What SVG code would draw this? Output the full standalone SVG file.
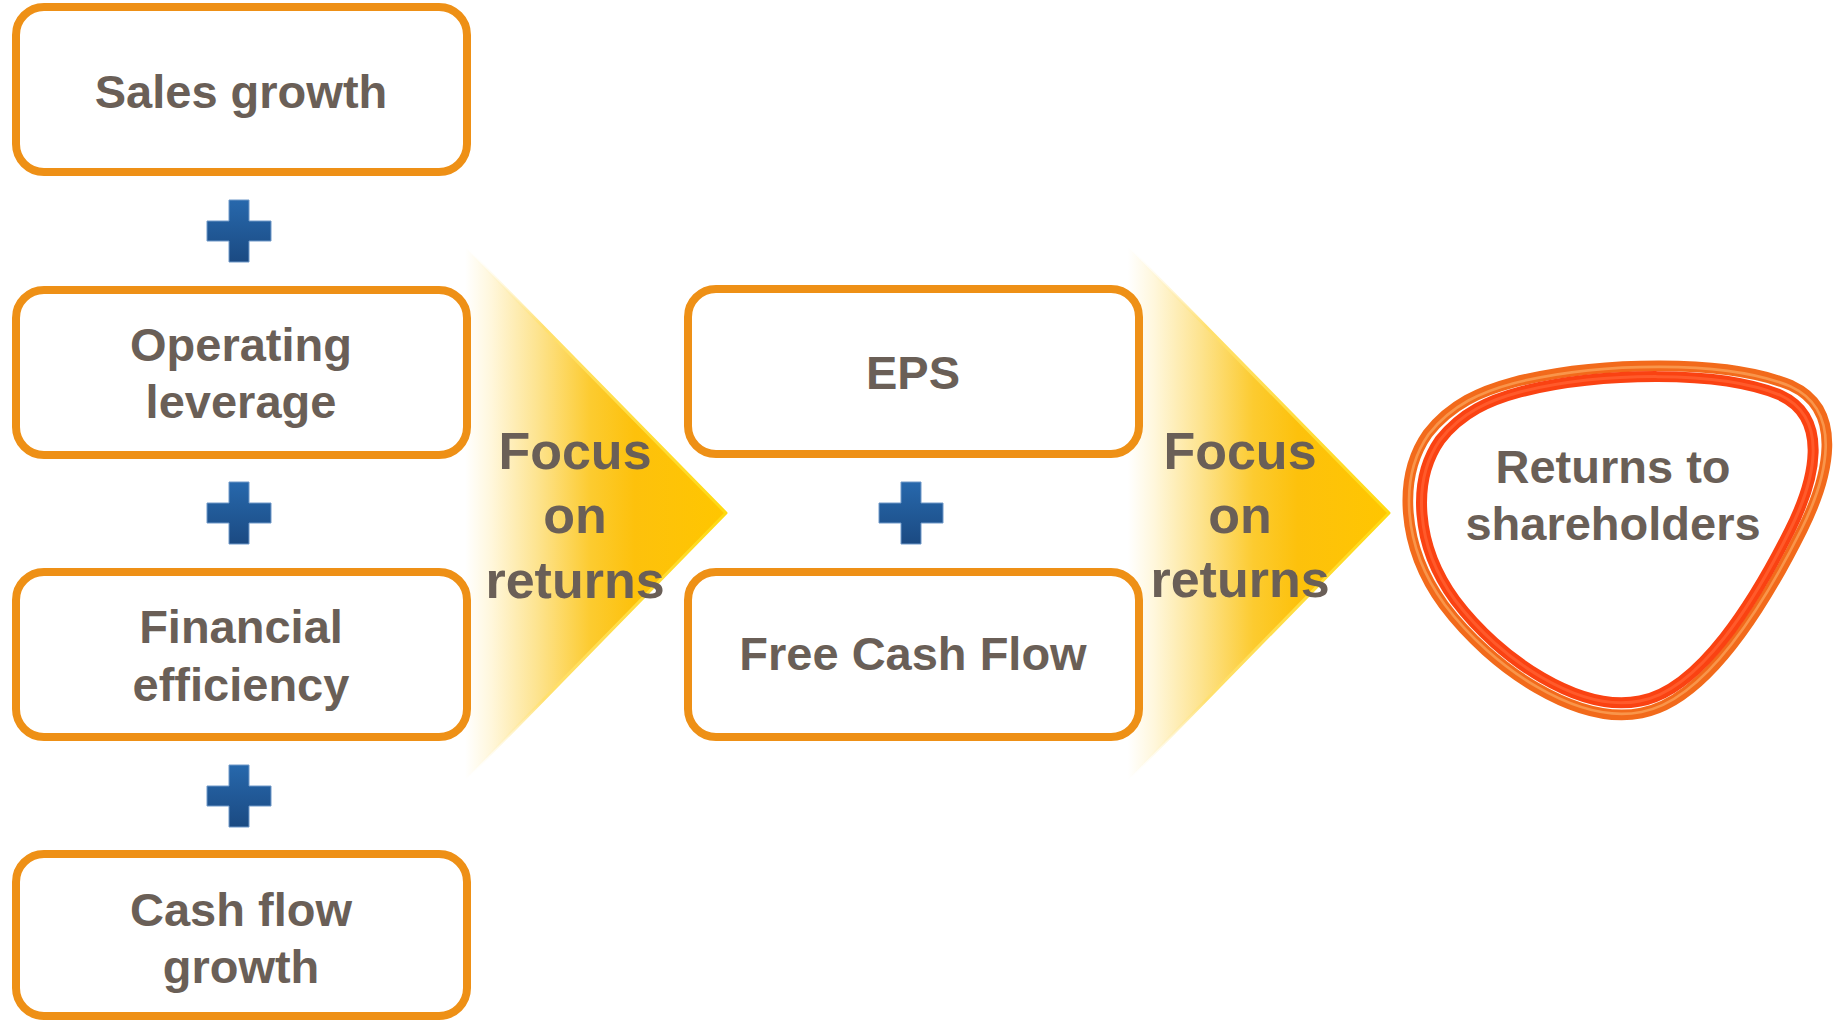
<svg xmlns="http://www.w3.org/2000/svg" width="1835" height="1022" viewBox="0 0 1835 1022">
<defs>
<style>
.box{fill:#ffffff;stroke:#EE9016;stroke-width:8}
.t{font-family:"Liberation Sans",Arial,sans-serif;font-weight:bold;font-size:47px;fill:#6A5F57;text-anchor:middle}
.f{font-size:52px}
.plus{fill:url(#plusGrad);stroke:#6F98C8;stroke-width:1}
</style>
<linearGradient id="plusGrad" x1="0" y1="0" x2="0" y2="1">
<stop offset="0" stop-color="#2768AC"/>
<stop offset="1" stop-color="#1B4A82"/>
</linearGradient>
<linearGradient id="arrowGrad1" gradientUnits="userSpaceOnUse" x1="465" y1="0" x2="726" y2="0">
<stop offset="0" stop-color="#FFFFFF"/>
<stop offset="0.1" stop-color="#FFF7DC"/>
<stop offset="0.28" stop-color="#FDE38E"/>
<stop offset="0.48" stop-color="#FCCB30"/>
<stop offset="0.65" stop-color="#FDC10C"/>
<stop offset="1" stop-color="#FFC600"/>
</linearGradient>
<linearGradient id="arrowGrad2" gradientUnits="userSpaceOnUse" x1="1128" y1="0" x2="1389" y2="0">
<stop offset="0" stop-color="#FFFFFF"/>
<stop offset="0.1" stop-color="#FFF7DC"/>
<stop offset="0.28" stop-color="#FDE38E"/>
<stop offset="0.48" stop-color="#FCCB30"/>
<stop offset="0.65" stop-color="#FDC10C"/>
<stop offset="1" stop-color="#FFC600"/>
</linearGradient>
<linearGradient id="edgeGrad1" gradientUnits="userSpaceOnUse" x1="465" y1="0" x2="726" y2="0">
<stop offset="0" stop-color="#FFFFFF" stop-opacity="0"/>
<stop offset="0.3" stop-color="#FFE070"/>
<stop offset="1" stop-color="#FFDA10"/>
</linearGradient>
<linearGradient id="edgeGrad2" gradientUnits="userSpaceOnUse" x1="1128" y1="0" x2="1389" y2="0">
<stop offset="0" stop-color="#FFFFFF" stop-opacity="0"/>
<stop offset="0.3" stop-color="#FFE070"/>
<stop offset="1" stop-color="#FFDA10"/>
</linearGradient>
<path id="blob" d="M 1520 392 C 1600 372, 1720 370, 1780 395 C 1830 418, 1815 480, 1790 530 C 1755 600, 1700 690, 1640 701 C 1580 713, 1500 660, 1455 600 C 1415 545, 1412 480, 1440 440 C 1462 412, 1490 400, 1520 392 Z"/>
</defs>
<rect width="1835" height="1022" fill="#ffffff"/>

<g id="connectors">
<g id="chevron1">
<polygon points="465,247 726,513 465,780" fill="url(#arrowGrad1)"/>
<polyline points="465,247 726,513 465,780" fill="none" stroke="url(#edgeGrad1)" stroke-width="3" stroke-linejoin="round"/>
</g>
<g id="chevron2">
<polygon points="1128,247 1389,513 1128,780" fill="url(#arrowGrad2)"/>
<polyline points="1128,247 1389,513 1128,780" fill="none" stroke="url(#edgeGrad2)" stroke-width="3" stroke-linejoin="round"/>
</g>
<g id="plus1"><path class="plus" d="M229,200 h20 v21 h22 v20 h-22 v21 h-20 v-21 h-22 v-20 h22 z"/></g>
<g id="plus2"><path class="plus" d="M229,482 h20 v21 h22 v20 h-22 v21 h-20 v-21 h-22 v-20 h22 z"/></g>
<g id="plus3"><path class="plus" d="M229,765 h20 v21 h22 v20 h-22 v21 h-20 v-21 h-22 v-20 h22 z"/></g>
<g id="plus4"><path class="plus" d="M901,482 h20 v21 h22 v20 h-22 v21 h-20 v-21 h-22 v-20 h22 z"/></g>
</g>

<g id="node-sales-growth">
<rect class="box" x="16" y="7" width="451" height="165" rx="28"/>
<text class="t" x="241" y="108">Sales growth</text>
</g>
<g id="node-operating-leverage">
<rect class="box" x="16" y="290" width="451" height="165" rx="28"/>
<text class="t" x="241" y="361">Operating</text>
<text class="t" x="241" y="418">leverage</text>
</g>
<g id="node-financial-efficiency">
<rect class="box" x="16" y="572" width="451" height="165" rx="28"/>
<text class="t" x="241" y="643">Financial</text>
<text class="t" x="241" y="701">efficiency</text>
</g>
<g id="node-cash-flow-growth">
<rect class="box" x="16" y="854" width="451" height="162" rx="28"/>
<text class="t" x="241" y="926">Cash flow</text>
<text class="t" x="241" y="983">growth</text>
</g>

<g id="focus1">
<text class="t f" x="575" y="469">Focus</text>
<text class="t f" x="575" y="533">on</text>
<text class="t f" x="575" y="598">returns</text>
</g>

<g id="node-eps">
<rect class="box" x="688" y="289" width="451" height="165" rx="28"/>
<text class="t" x="913" y="389">EPS</text>
</g>
<g id="node-free-cash-flow">
<rect class="box" x="688" y="572" width="451" height="165" rx="28"/>
<text class="t" x="913" y="670">Free Cash Flow</text>
</g>

<g id="focus2">
<text class="t f" x="1240" y="469">Focus</text>
<text class="t f" x="1240" y="533">on</text>
<text class="t f" x="1240" y="597">returns</text>
</g>

<g id="node-returns">
<use href="#blob" transform="translate(1617 530) scale(1.07) translate(-1617 -530)" fill="none" stroke="#F26A1B" stroke-width="10"/>
<use href="#blob" transform="translate(1617 530) scale(1.064) translate(-1617 -530)" fill="none" stroke="#F9954A" stroke-width="2.5"/>
<use href="#blob" fill="#ffffff" stroke="#FA4212" stroke-width="11"/>
<use href="#blob" fill="none" stroke="#FF5A2A" stroke-width="3"/>
<text class="t" x="1613" y="483">Returns to</text>
<text class="t" x="1613" y="540">shareholders</text>
</g>
</svg>
